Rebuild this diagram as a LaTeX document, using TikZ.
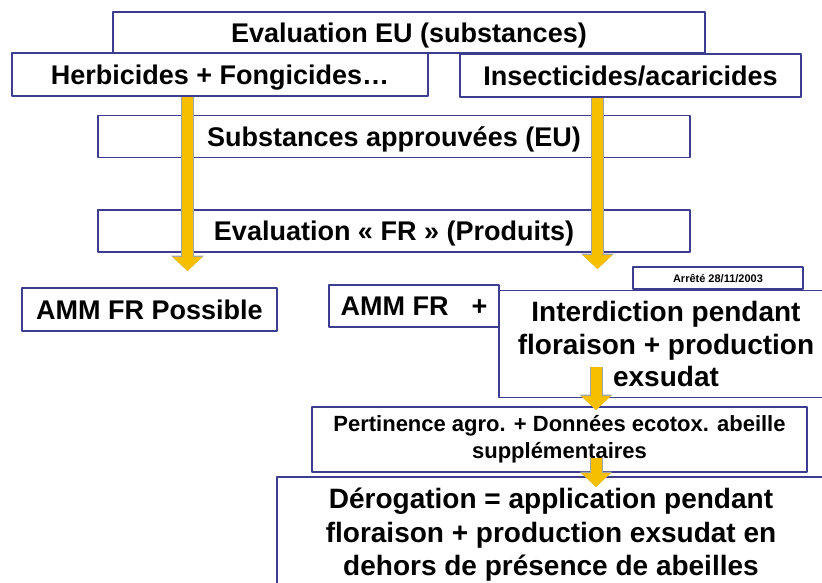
\documentclass[tikz,border=0pt]{standalone}
\usepackage{fontspec}
\setmainfont{Liberation Sans}
\usetikzlibrary{arrows.meta}
\definecolor{bordure}{HTML}{3D3D8F}
\definecolor{jaune}{HTML}{F6C000}
\definecolor{gris}{HTML}{A3A3A3}
\begin{document}
\begin{tikzpicture}[x=1pt, y=-1pt, line join=round]
	\tikzset{boite/.style={draw=bordure, line width=1.4pt, fill=white, inner sep=0pt, align=center, font=\bfseries\fontsize{27}{32}\selectfont},
		ligne/.style={text height=19.5pt, text depth=0pt},
		fleche/.style={draw=jaune, line width=11pt, -{Triangle[width=29pt,length=14pt]},
			preaction={draw=gris, line width=13pt, -{Triangle[width=32pt,length=15.5pt]}}}}
	\useasboundingbox (0,0) rectangle (822,582);
	\clip (0,0) rectangle (822,582);
	%Évaluation EU
	\node[boite, ligne, minimum width=592pt, minimum height=41pt] (evalEU) at (409,32.5) {Evaluation EU (substances)};
	\node[boite, ligne, minimum width=416pt, minimum height=43pt] (herbi) at (220,74.5) {Herbicides + Fongicides…};
	\node[boite, ligne, minimum width=341pt, minimum height=43pt] (insect) at (630.5,75.5) {Insecticides/acaricides};
	\node[boite, ligne, minimum width=592pt, minimum height=42pt] (substApp) at (394,136.5) {Substances approuvées (EU)};
	\node[boite, ligne, minimum width=592pt, minimum height=42pt] (evalFR) at (394,231) {Evaluation «~FR~» (Produits)};
	%AMM
	\node[boite, ligne, minimum width=255pt, minimum height=43pt] (ammPoss) at (149.5,309.5) {AMM FR Possible};
	\node[boite, ligne, minimum width=170pt, minimum height=42pt] (ammPlus) at (414,306) {AMM FR\hspace{0.85em}+};
	\node[boite, text height=8pt, text depth=0pt, minimum width=170pt, minimum height=22pt, font=\bfseries\fontsize{11}{13}\selectfont] (arrete) at (718,278) {Arrêté 28/11/2003};
	\node[boite, minimum width=334pt, minimum height=107pt, font=\bfseries\fontsize{28}{32.5}\selectfont] (interdit) at (666,344) {Interdiction pendant\\floraison + production\\exsudat};
	\node[boite, minimum width=495pt, minimum height=65pt, font=\bfseries\fontsize{22}{27}\selectfont] (pertin) at (559.5,439.5) {Pertinence agro. + Données ecotox. abeille\\supplémentaires};
	\node[boite, minimum width=548pt, minimum height=116pt, font=\bfseries\fontsize{28}{33.5}\selectfont] (derog) at (551,535) {Dérogation = application pendant\\floraison + production exsudat en\\dehors de présence de abeilles};
	%Flèches
	\coordinate (pointeG) at (187.5,271);
	\coordinate (pointeD) at (597.5,269);
	\coordinate (departA) at (596,367);
	\coordinate (pointeA) at (596,410);
	\coordinate (departB) at (596,458);
	\coordinate (pointeB) at (596,487);
	\draw[fleche] (herbi.south -| pointeG) -- (pointeG);
	\draw[fleche] (insect.south -| pointeD) -- (pointeD);
	\draw[fleche] (departA) -- (pointeA);
	\draw[fleche] (departB) -- (pointeB);
\end{tikzpicture}
\end{document}
